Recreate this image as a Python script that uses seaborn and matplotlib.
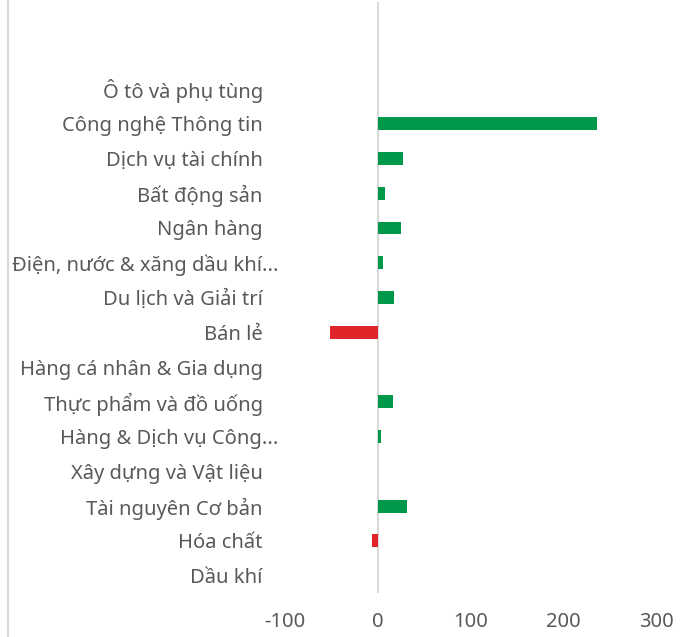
import pandas as pd
import matplotlib
matplotlib.use("Agg")
import matplotlib.pyplot as plt
import matplotlib.transforms as mtransforms
import seaborn as sns
from matplotlib.lines import Line2D

nganh = [
    'Ô tô và phụ tùng',
    'Công nghệ Thông tin',
    'Dịch vụ tài chính',
    'Bất động sản',
    'Ngân hàng',
    'Điện, nước & xăng dầu khí...',
    'Du lịch và Giải trí',
    'Bán lẻ',
    'Hàng cá nhân & Gia dụng',
    'Thực phẩm và đồ uống',
    'Hàng & Dịch vụ Công...',
    'Xây dựng và Vật liệu',
    'Tài nguyên Cơ bản',
    'Hóa chất',
    'Dầu khí',
]
gia_tri = [0, 236, 27, 8, 25, 6, 18, -51, 0.5, 16, 4, 0, 31, -6, 0]
x_ticks = [-100, 0, 100, 200, 300]

XANH = '#00984A'
DO = '#DF2529'
CHU = '#595959'

df = pd.DataFrame({'nganh': nganh, 'gia_tri': gia_tri})
df['dau'] = ['am' if v < 0 else 'duong' for v in df.gia_tri]

sns.set_theme(style="white")
plt.rcParams['font.family'] = ['Noto Sans', 'DejaVu Sans']

fig = plt.figure(figsize=(6.92, 6.37), dpi=100)
ax = fig.add_axes([285 / 692, 1 - 593 / 637, (656 - 285) / 692, 591 / 637])

sns.barplot(data=df, y='nganh', x='gia_tri', hue='dau',
            palette={'am': DO, 'duong': XANH}, orient='h',
            width=0.37, legend=False, ax=ax, saturation=1, linewidth=0)

ax.set_xlim(-100, 300)
ax.set_ylim(len(nganh) - 0.5, -2.5)
ax.set_xticks(x_ticks)
ax.set_xticklabels([str(t) for t in x_ticks])
ax.set_xlabel('')
ax.set_ylabel('')
ax.axvline(0, color='#d9d9d9', lw=1.5, zorder=0)

for s in ax.spines.values():
    s.set_visible(False)
ax.tick_params(axis='both', length=0, labelsize=14.5, colors=CHU)
ax.tick_params(axis='y', pad=16)
ax.tick_params(axis='x', pad=14)

# nhan bi cat "..." thi phan dau cham lo ra ben phai
lech = mtransforms.ScaledTranslation(16 / 100, 0, fig.dpi_scale_trans)
for lbl in ax.get_yticklabels():
    if lbl.get_text().endswith('...'):
        lbl.set_transform(lbl.get_transform() + lech)

fig.add_artist(Line2D([7.5 / 692, 7.5 / 692], [0, 1], color='#d9d9d9', lw=1.6,
                      transform=fig.transFigure))

fig.savefig('out.png', dpi=100)
